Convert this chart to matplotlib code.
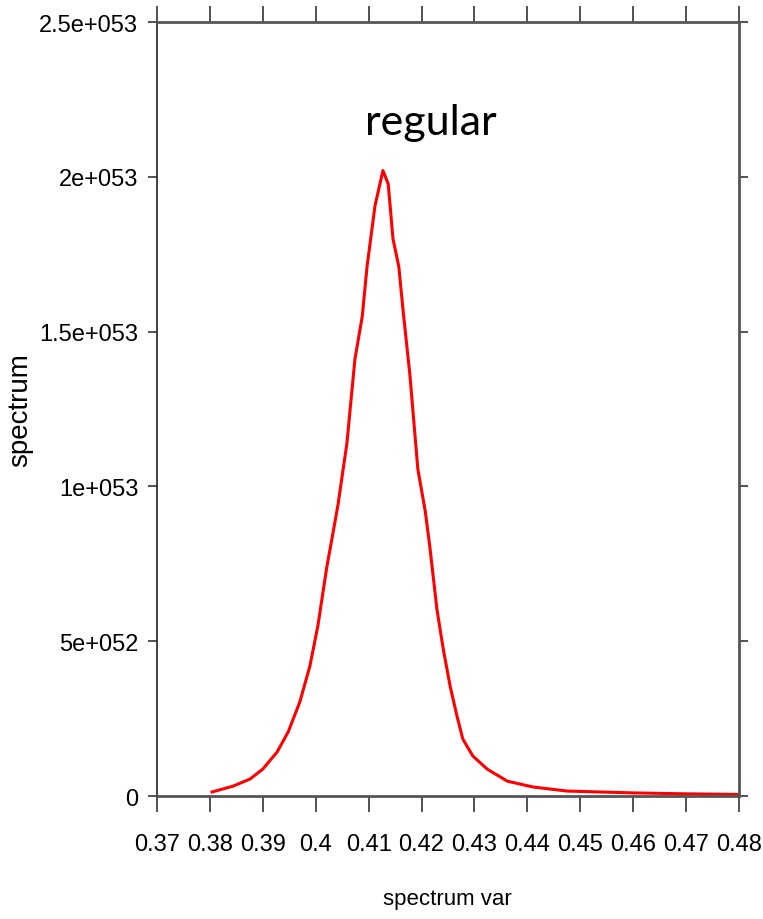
import matplotlib
matplotlib.use("Agg")
import matplotlib.pyplot as plt

# curve (x, spectrum in units of 1e52)
spec_var = [0.3804, 0.3844, 0.3876, 0.3900, 0.3927, 0.3948, 0.3970, 0.3989,
            0.4004, 0.4021, 0.4033, 0.4042, 0.4059, 0.4074, 0.4088, 0.4097,
            0.4112, 0.4127, 0.4137, 0.4146, 0.4157, 0.4165, 0.4178, 0.4193,
            0.4207, 0.4216, 0.4229, 0.4241, 0.4254, 0.4267, 0.4278, 0.4297,
            0.4324, 0.4362, 0.4411, 0.4475, 0.4537, 0.4600, 0.4700, 0.4800]
spectrum_e52 = [0.13, 0.32, 0.55, 0.87, 1.42, 2.07, 3.04, 4.20,
                5.49, 7.40, 8.53, 9.40, 11.4, 14.1, 15.5, 17.1,
                19.06, 20.2, 19.77, 18.0, 17.1, 15.7, 13.6, 10.56,
                9.20, 8.00, 6.04, 4.75, 3.55, 2.58, 1.84, 1.29,
                0.87, 0.48, 0.29, 0.16, 0.13, 0.10, 0.07, 0.05]

x_ticks = [0.37, 0.38, 0.39, 0.40, 0.41, 0.42, 0.43, 0.44, 0.45, 0.46, 0.47, 0.48]
x_tick_labels = ["0.37", "0.38", "0.39", "0.4", "0.41", "0.42", "0.43",
                 "0.44", "0.45", "0.46", "0.47", "0.48"]
y_ticks = [0, 0.5e53, 1.0e53, 1.5e53, 2.0e53, 2.5e53]
y_tick_labels = ["0", "5e+052", "1e+053", "1.5e+053", "2e+053", "2.5e+053"]

spectrum = [v * 1e52 for v in spectrum_e52]

fig = plt.figure(figsize=(7.63, 9.2), dpi=100)
ax = fig.add_axes([157 / 763, 1 - 797 / 920, (739 - 157) / 763, (797 - 23) / 920])

ax.plot(spec_var, spectrum, color="#ff0000", linewidth=2.2)

ax.set_xlim(0.37, 0.48)
ax.set_ylim(0, 2.5e53)
ax.set_xticks(x_ticks)
ax.set_xticklabels(x_tick_labels, fontfamily="Liberation Sans", fontsize=17)
ax.set_yticks(y_ticks)
ax.set_yticklabels(y_tick_labels, fontfamily="Liberation Sans", fontsize=17)

ax.tick_params(axis="x", direction="out", length=11.5, width=1.1, pad=15,
               top=True, labeltop=False, color="#222222")
ax.tick_params(axis="y", direction="out", length=6.5, width=1.1, pad=7,
               right=True, labelright=False, color="#222222")

ax.spines["left"].set_color("#222222")
ax.spines["left"].set_linewidth(1.2)
for side in ["bottom", "right", "top"]:
    ax.spines[side].set_color("#555555")
    ax.spines[side].set_linewidth(2.0)

ax.set_xlabel("spectrum var", fontfamily="Liberation Sans", fontsize=16)
ax.xaxis.set_label_coords((447 - 157) / 582, -(889 - 797) / 774)
ax.set_ylabel("spectrum", fontfamily="Liberation Sans", fontsize=20)
ax.yaxis.set_label_coords((33 - 157) / 582, (797 - 410) / 774)

ax.text(0.470, 0.871, "regular", transform=ax.transAxes, ha="center",
        va="center", fontfamily="Lato", fontsize=31)

fig.savefig("out.png", dpi=100, facecolor="white")
